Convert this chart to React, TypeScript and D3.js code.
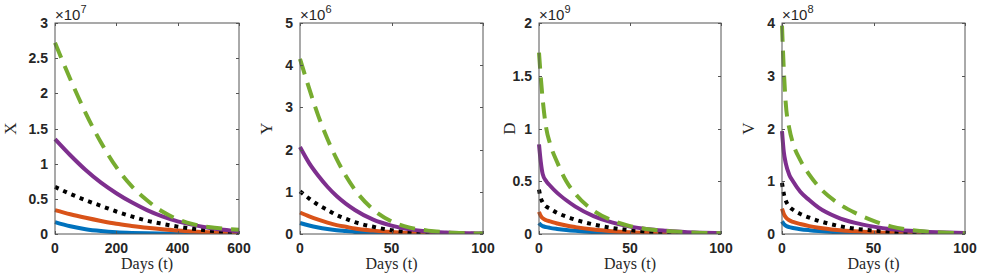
import React, { useEffect, useRef } from 'react';
import * as d3 from 'd3';

// X panel (x10^7), t in days
const xDays = [0, 50, 100, 150, 200, 250, 300, 350, 400, 450, 500, 550, 600];
const xBlue = [0.17, 0.11, 0.068, 0.042, 0.025, 0.015, 0.009, 0.006, 0.004, 0.003, 0.002, 0.001, 0.001];
const xOrange = [0.34, 0.28, 0.23, 0.185, 0.145, 0.115, 0.088, 0.066, 0.05, 0.035, 0.025, 0.016, 0.01];
const xBlack = [0.67, 0.57, 0.48, 0.4, 0.32, 0.25, 0.19, 0.145, 0.105, 0.075, 0.05, 0.03, 0.015];
const xPurple = [1.35, 1.12, 0.91, 0.73, 0.58, 0.45, 0.34, 0.25, 0.18, 0.13, 0.09, 0.06, 0.035];
const xGreen = [2.72, 2.2, 1.72, 1.3, 0.95, 0.68, 0.48, 0.32, 0.21, 0.14, 0.1, 0.075, 0.06];

// Y panel (x10^6)
const yDays = [0, 5, 10, 15, 20, 25, 30, 40, 50, 60, 70, 80, 90, 100];
const yBlue = [0.26, 0.2, 0.155, 0.12, 0.09, 0.07, 0.05, 0.028, 0.015, 0.008, 0.004, 0.002, 0.001, 0.0005];
const yOrange = [0.51, 0.42, 0.34, 0.27, 0.21, 0.17, 0.13, 0.08, 0.045, 0.025, 0.014, 0.008, 0.004, 0.002];
const yBlack = [1.01, 0.84, 0.69, 0.57, 0.45, 0.36, 0.28, 0.17, 0.09, 0.04, 0.02, 0.01, 0.005, 0.003];
const yPurple = [2.06, 1.68, 1.38, 1.12, 0.9, 0.72, 0.57, 0.34, 0.2, 0.11, 0.06, 0.035, 0.02, 0.01];
const yGreen = [4.15, 3.45, 2.8, 2.25, 1.78, 1.38, 1.05, 0.58, 0.3, 0.15, 0.08, 0.04, 0.02, 0.01];

// D and V panels share the day grid
const dvDays = [0, 1, 2, 4, 6, 10, 15, 20, 30, 40, 50, 60, 70, 80, 90, 100];
// D (x10^9)
const dBlue = [0.105, 0.085, 0.075, 0.065, 0.058, 0.048, 0.038, 0.03, 0.018, 0.011, 0.006, 0.004, 0.002, 0.001, 0.0006, 0.0003];
const dOrange = [0.21, 0.17, 0.15, 0.13, 0.12, 0.1, 0.08, 0.065, 0.042, 0.027, 0.017, 0.01, 0.006, 0.004, 0.002, 0.001];
const dBlack = [0.42, 0.34, 0.3, 0.26, 0.24, 0.2, 0.165, 0.135, 0.09, 0.058, 0.036, 0.022, 0.013, 0.008, 0.005, 0.003];
const dPurple = [0.85, 0.68, 0.57, 0.5, 0.46, 0.39, 0.32, 0.26, 0.17, 0.11, 0.07, 0.045, 0.03, 0.018, 0.012, 0.008];
const dGreen = [1.72, 1.48, 1.28, 1.0, 0.86, 0.68, 0.5, 0.38, 0.22, 0.13, 0.075, 0.045, 0.028, 0.017, 0.01, 0.006];
// V (x10^8)
const vBlue = [0.24, 0.19, 0.16, 0.13, 0.115, 0.092, 0.072, 0.056, 0.034, 0.02, 0.012, 0.007, 0.004, 0.0025, 0.0015, 0.001];
const vOrange = [0.48, 0.38, 0.32, 0.26, 0.23, 0.19, 0.15, 0.12, 0.078, 0.05, 0.032, 0.02, 0.013, 0.008, 0.005, 0.003];
const vBlack = [0.97, 0.76, 0.64, 0.52, 0.46, 0.38, 0.31, 0.25, 0.16, 0.1, 0.065, 0.04, 0.025, 0.016, 0.01, 0.007];
const vPurple = [1.95, 1.55, 1.35, 1.12, 1.0, 0.8, 0.64, 0.5, 0.32, 0.21, 0.14, 0.09, 0.06, 0.04, 0.027, 0.02];
const vGreen = [3.95, 3.1, 2.5, 2.0, 1.72, 1.4, 1.12, 0.9, 0.6, 0.4, 0.25, 0.14, 0.08, 0.045, 0.025, 0.015];

const seriesStyle = [
  { color: '#0072BD', dash: null },
  { color: '#D95319', dash: null },
  { color: '#000000', dash: '4 5' },
  { color: '#7E2F8E', dash: null },
  { color: '#77AC30', dash: '16 9' },
];

const panels = [
  { name: 'X', exp: '7', days: xDays, series: [xBlue, xOrange, xBlack, xPurple, xGreen], xMax: 600, xTicks: [0, 200, 400, 600], yMax: 3, yTicks: [0, 0.5, 1, 1.5, 2, 2.5, 3], left: 55, right: 239, labelX: 11 },
  { name: 'Y', exp: '6', days: yDays, series: [yBlue, yOrange, yBlack, yPurple, yGreen], xMax: 100, xTicks: [0, 50, 100], yMax: 5, yTicks: [0, 1, 2, 3, 4, 5], left: 300, right: 483, labelX: 267 },
  { name: 'D', exp: '9', days: dvDays, series: [dBlue, dOrange, dBlack, dPurple, dGreen], xMax: 100, xTicks: [0, 50, 100], yMax: 2, yTicks: [0, 0.5, 1, 1.5, 2], left: 539, right: 721, labelX: 510 },
  { name: 'V', exp: '8', days: dvDays, series: [vBlue, vOrange, vBlack, vPurple, vGreen], xMax: 100, xTicks: [0, 50, 100], yMax: 4, yTicks: [0, 1, 2, 3, 4], left: 782, right: 965, labelX: 749 },
];

const top = 23, bottom = 234;
const tickFont = '"Liberation Sans", Arial, sans-serif';
const serif = '"Liberation Serif", "Times New Roman", serif';

export default function App() {
  const ref = useRef<SVGSVGElement>(null);

  useEffect(() => {
    const svg = d3.select(ref.current);
    svg.selectAll('*').remove();

    panels.forEach((p) => {
      const x = d3.scaleLinear().domain([0, p.xMax]).range([p.left, p.right]);
      const y = d3.scaleLinear().domain([0, p.yMax]).range([bottom, top]);
      const g = svg.append('g');

      // curves
      const clip = 'clip' + p.name;
      g.append('clipPath').attr('id', clip).append('rect')
        .attr('x', p.left - 3).attr('y', top - 3)
        .attr('width', p.right - p.left + 6).attr('height', bottom - top + 3);

      const line = d3.line<number>()
        .x((d, i) => x(p.days[i]))
        .y((d) => y(d))
        .curve(d3.curveMonotoneX);

      p.series.forEach((vals, k) => {
        const st = seriesStyle[k];
        g.append('path')
          .attr('d', line(vals))
          .attr('fill', 'none')
          .attr('stroke', st.color)
          .attr('stroke-width', 4)
          .attr('stroke-dasharray', st.dash)
          .attr('clip-path', `url(#${clip})`);
      });

      // box + ticks
      g.append('rect')
        .attr('x', p.left).attr('y', top)
        .attr('width', p.right - p.left).attr('height', bottom - top)
        .attr('fill', 'none').attr('stroke', '#555').attr('stroke-width', 1);

      p.yTicks.forEach((t) => {
        const yy = Math.round(y(t)) + 0.5;
        g.append('line').attr('x1', p.left).attr('x2', p.left + 3).attr('y1', yy).attr('y2', yy).attr('stroke', '#555');
        g.append('line').attr('x1', p.right - 3).attr('x2', p.right).attr('y1', yy).attr('y2', yy).attr('stroke', '#555');
        g.append('text')
          .attr('x', p.left - 7).attr('y', y(t))
          .attr('dy', '0.36em')
          .attr('text-anchor', 'end')
          .attr('font-family', tickFont).attr('font-weight', 'bold').attr('font-size', 14)
          .attr('fill', '#262626')
          .text(String(t));
      });

      p.xTicks.forEach((t) => {
        const xx = Math.round(x(t)) + 0.5;
        g.append('line').attr('x1', xx).attr('x2', xx).attr('y1', bottom).attr('y2', bottom - 3).attr('stroke', '#555');
        g.append('line').attr('x1', xx).attr('x2', xx).attr('y1', top).attr('y2', top + 3).attr('stroke', '#555');
        g.append('text')
          .attr('x', x(t)).attr('y', 253)
          .attr('text-anchor', 'middle')
          .attr('font-family', tickFont).attr('font-weight', 'bold').attr('font-size', 14)
          .attr('fill', '#262626')
          .text(String(t));
      });

      // exponent
      const ex = g.append('text')
        .attr('x', p.left).attr('y', 20)
        .attr('font-family', tickFont).attr('font-size', 15)
        .attr('fill', '#262626');
      ex.append('tspan').text('×10');
      ex.append('tspan').attr('dy', -7).attr('font-size', 11).text(p.exp);

      // axis labels
      g.append('text')
        .attr('x', (p.left + p.right) / 2).attr('y', 269)
        .attr('text-anchor', 'middle')
        .attr('font-family', serif).attr('font-size', 16)
        .attr('fill', '#262626')
        .text('Days (t)');

      g.append('text')
        .attr('transform', `translate(${p.labelX + 5},${(top + bottom) / 2}) rotate(-90)`)
        .attr('text-anchor', 'middle')
        .attr('font-family', serif).attr('font-size', 17)
        .attr('fill', '#262626')
        .text(p.name);
    });
  }, []);

  return (
    <svg ref={ref} width={981} height={273}
      style={{ position: 'absolute', left: 0, top: 0, background: '#fff' }} />
  );
}
